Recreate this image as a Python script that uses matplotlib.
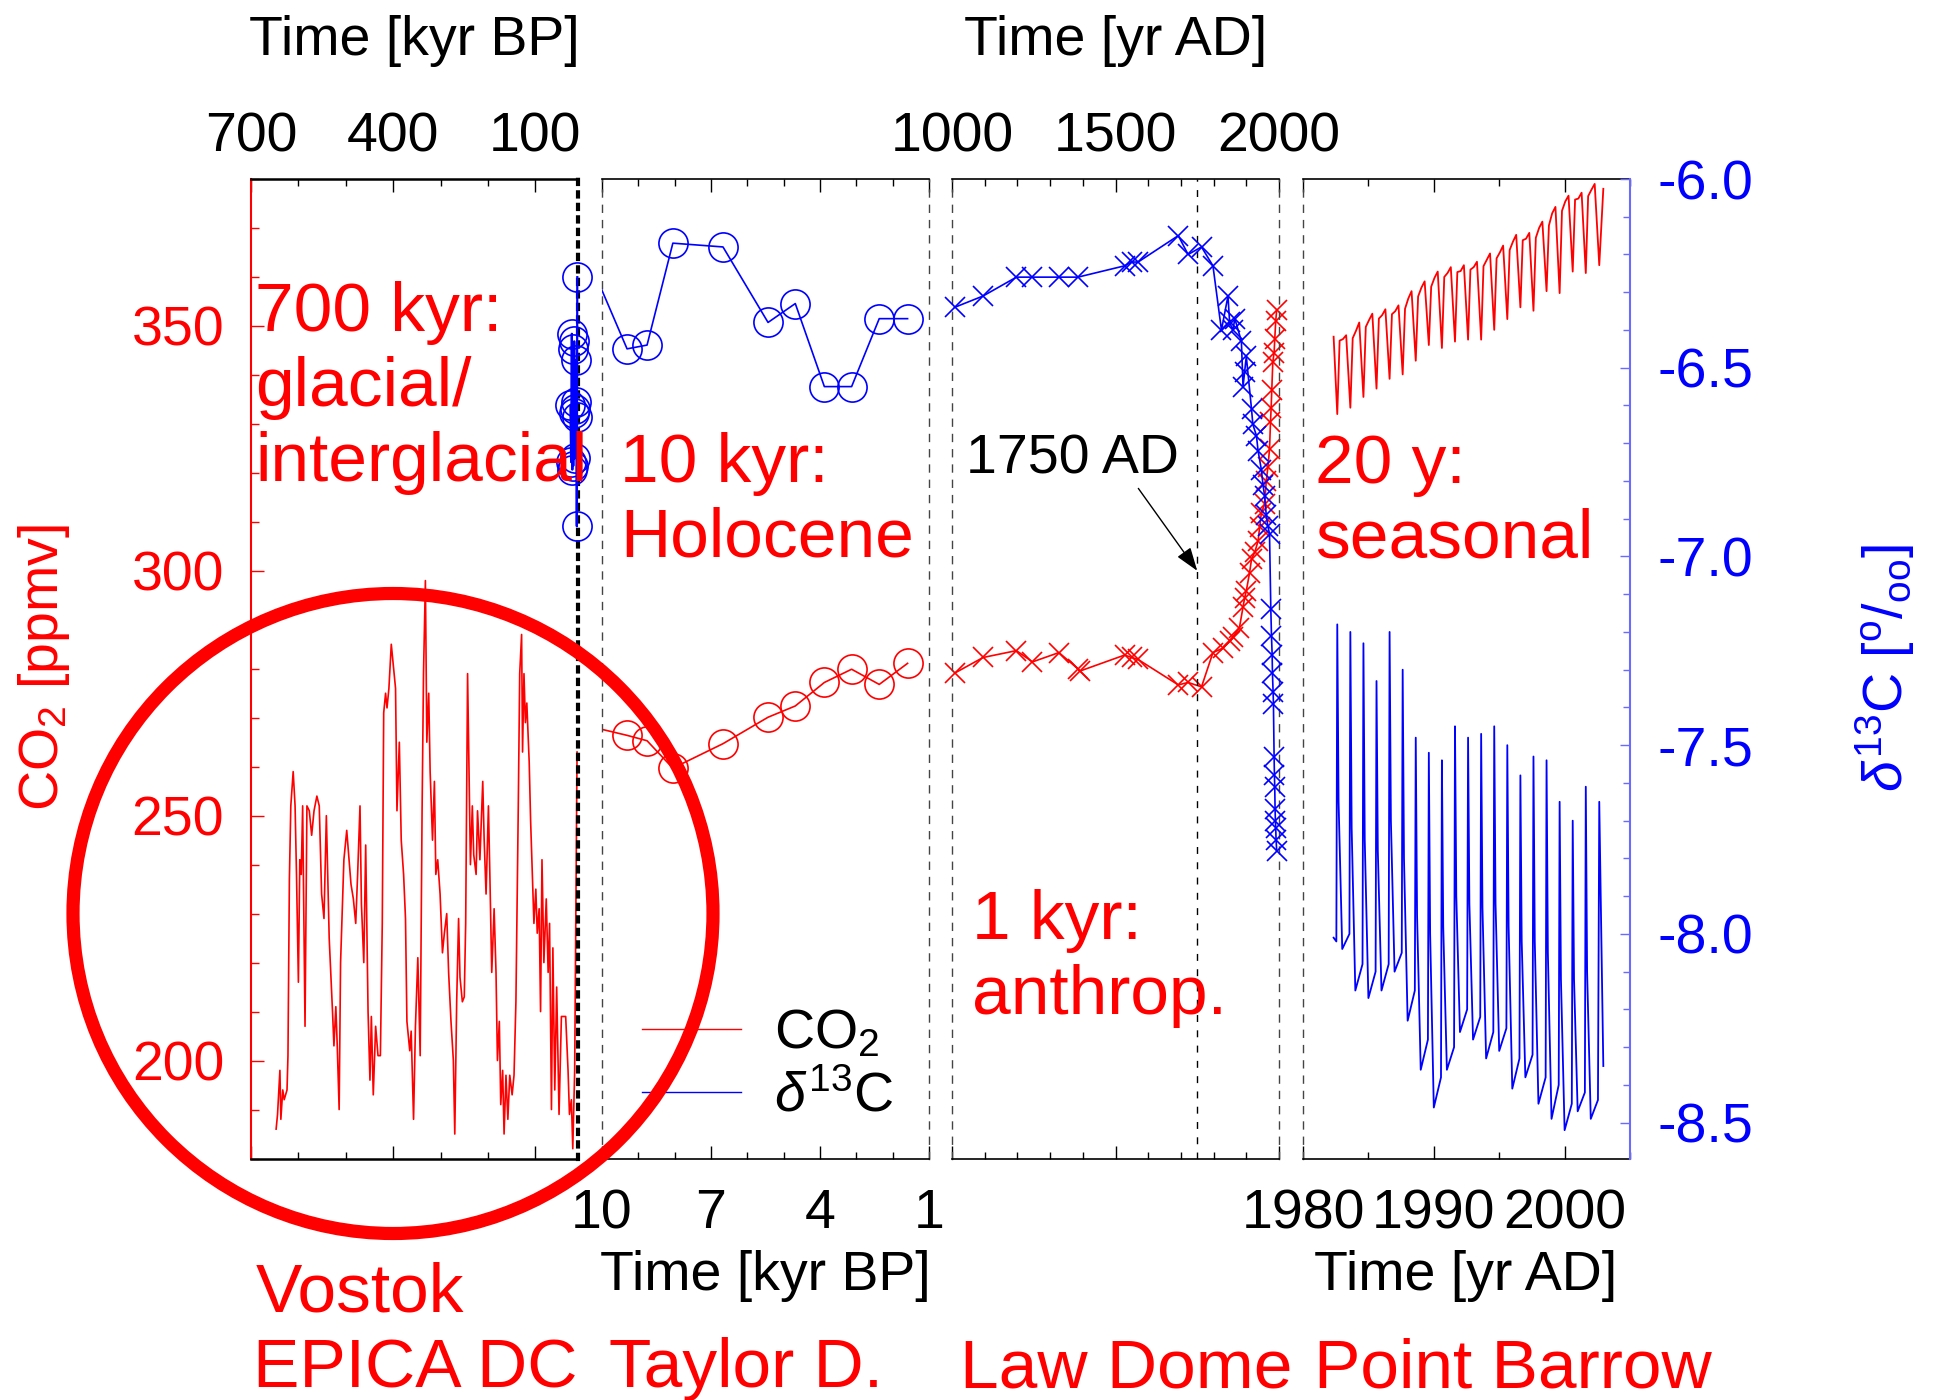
import matplotlib
matplotlib.use("Agg")
import matplotlib.pyplot as plt
from matplotlib.lines import Line2D
from matplotlib.patches import Ellipse
from matplotlib.ticker import FixedLocator, MultipleLocator, FormatStrFormatter

plt.rcParams['font.family'] = ['Liberation Sans', 'DejaVu Sans']
plt.rcParams['mathtext.fontset'] = 'custom'
plt.rcParams['mathtext.rm'] = 'Liberation Sans'
plt.rcParams['mathtext.it'] = 'Liberation Sans:italic'
plt.rcParams['mathtext.bf'] = 'Liberation Sans:bold'
plt.rcParams['axes.unicode_minus'] = False

RED = '#ff0000'
BLUE = '#0000ff'

# ---- Vostok / EPICA DC CO2 (kyr BP, ppmv)
vostok_age = [647, 644, 639, 637, 633, 630, 624, 622, 619, 616,
              611, 607, 604, 600, 597, 594, 591, 588, 586, 582,
              577, 572, 567, 561, 556, 551, 546, 541, 535, 528,
              525, 521, 518, 514, 511, 504, 498, 493, 489, 484,
              479, 475, 470, 467, 462, 458, 453, 449, 446, 442,
              437, 432, 427, 423, 420, 416, 413, 409, 404, 400,
              395, 392, 387, 383, 378, 374, 371, 365, 362, 357,
              353, 348, 343, 339, 336, 332, 329, 325, 322, 317,
              313, 310, 306, 301, 296, 292, 287, 283, 278, 273,
              270, 266, 262, 259, 254, 250, 247, 243, 239, 237,
              233, 230, 225, 222, 217, 213, 211, 208, 204, 199,
              196, 192, 187, 183, 180, 176, 173, 169, 166, 162,
              158, 154, 149, 145, 141, 136, 133, 129, 127, 124,
              121, 118, 113, 110, 106, 103, 99, 96, 92, 89,
              86, 82, 77, 73, 70, 66, 63, 59, 55, 50,
              45, 36, 31, 28, 24, 21, 17, 14, 12]
vostok_co2 = [186, 189, 198, 188, 194, 192, 194, 201, 237, 252,
              259, 252, 238, 216, 241, 238, 252, 225, 207, 252,
              251, 246, 251, 254, 252, 234, 229, 250, 225, 210,
              203, 211, 203, 190, 220, 241, 247, 241, 236, 233,
              228, 238, 252, 232, 220, 244, 210, 196, 209, 193,
              207, 201, 201, 228, 271, 275, 272, 276, 285, 281,
              276, 251, 265, 245, 238, 229, 208, 202, 206, 188,
              207, 221, 201, 251, 279, 298, 265, 275, 259, 245,
              257, 238, 241, 234, 222, 226, 230, 218, 208, 200,
              185, 212, 229, 217, 212, 213, 228, 279, 252, 240,
              252, 242, 238, 251, 241, 252, 257, 245, 234, 252,
              238, 218, 231, 218, 200, 208, 191, 198, 185, 197,
              188, 197, 193, 197, 212, 252, 279, 287, 263, 279,
              269, 273, 261, 249, 237, 228, 235, 226, 231, 210,
              241, 220, 233, 218, 228, 190, 223, 194, 215, 189,
              209, 209, 198, 189, 192, 182, 198, 238, 263]

# ---- Taylor Dome d13C, glacial termination (kyr BP, permil)
taylor_glacial_age = [26, 24.5, 23, 22, 21, 20, 19, 18, 17, 16, 15, 14, 13, 12.5, 11.5]
taylor_glacial_d13c = [-6.60, -6.75, -6.41, -6.77, -6.45, -6.76, -6.62, -6.43,
                       -6.74, -6.61, -6.48, -6.59, -6.63, -6.92, -6.26]

# ---- Taylor Dome Holocene (kyr BP)
taylor_age = [10.78, 9.31, 8.76, 8.05, 6.67, 5.43, 4.68, 3.88, 3.13, 2.37, 1.59]
taylor_co2 = [269.0, 266.4, 265.3, 259.7, 264.7, 270.1, 272.4, 277.2, 279.9, 276.8, 281.1]
taylor_d13c = [-6.12, -6.45, -6.44, -6.17, -6.18, -6.38, -6.33, -6.55, -6.55, -6.37, -6.37]

# ---- Law Dome (yr AD)
law_co2_year = [1008, 1095, 1197, 1246, 1327, 1385, 1390, 1528, 1549, 1569,
                1692, 1722, 1763, 1798, 1828, 1849, 1859, 1879, 1890, 1895,
                1900, 1910, 1916, 1926, 1936, 1941, 1946, 1956, 1961, 1966,
                1971, 1974, 1976, 1978, 1981, 1985, 1987, 1990, 1993]
law_co2 = [279.1, 282.3, 283.7, 281.4, 283.3, 280.0, 279.5, 282.8, 282.3, 281.9,
           276.7, 277.2, 276.3, 283.3, 284.2, 285.6, 286.5, 288.4, 292.6, 294.5,
           295.9, 299.6, 302.4, 303.8, 306.1, 309.0, 311.8, 313.6, 318.3, 321.1,
           324.8, 330.4, 333.3, 337.0, 342.6, 344.5, 347.3, 351.0, 353.3]
law_d13c_year = [1008, 1095, 1197, 1246, 1327, 1385, 1528, 1549, 1569, 1692,
                 1722, 1763, 1798, 1824, 1844, 1849, 1859, 1865, 1885, 1890,
                 1895, 1900, 1916, 1920, 1931, 1936, 1946, 1951, 1956, 1961,
                 1966, 1971, 1975, 1977, 1979, 1980, 1982, 1983, 1985, 1986,
                 1987, 1988, 1989, 1990, 1991, 1993]
law_d13c = [-6.34, -6.31, -6.26, -6.26, -6.26, -6.26, -6.23, -6.22, -6.22, -6.15,
            -6.20, -6.18, -6.23, -6.40, -6.31, -6.38, -6.40, -6.37, -6.43, -6.55,
            -6.51, -6.47, -6.61, -6.65, -6.68, -6.72, -6.77, -6.81, -6.84, -6.89,
            -6.92, -6.94, -7.14, -7.21, -7.26, -7.31, -7.36, -7.39, -7.53, -7.58,
            -7.61, -7.67, -7.70, -7.72, -7.75, -7.78]

# ---- Point Barrow flask record (yr AD)
barrow_co2_time = [1982.34, 1982.62, 1982.80,
                   1983.05, 1983.30, 1983.62, 1983.80,
                   1984.05, 1984.30, 1984.62, 1984.80,
                   1985.05, 1985.30, 1985.62, 1985.80,
                   1986.05, 1986.30, 1986.62, 1986.80,
                   1987.05, 1987.30, 1987.62, 1987.80,
                   1988.05, 1988.30, 1988.62, 1988.80,
                   1989.05, 1989.30, 1989.62, 1989.80,
                   1990.05, 1990.30, 1990.62, 1990.80,
                   1991.05, 1991.30, 1991.62, 1991.80,
                   1992.05, 1992.30, 1992.62, 1992.80,
                   1993.05, 1993.30, 1993.62, 1993.80,
                   1994.05, 1994.30, 1994.62, 1994.80,
                   1995.05, 1995.30, 1995.62, 1995.80,
                   1996.05, 1996.30, 1996.62, 1996.80,
                   1997.05, 1997.30, 1997.62, 1997.80,
                   1998.05, 1998.30, 1998.62, 1998.80,
                   1999.05, 1999.30, 1999.62, 1999.80,
                   2000.05, 2000.30, 2000.62, 2000.80,
                   2001.05, 2001.30, 2001.62, 2001.80,
                   2002.05, 2002.30, 2002.65, 2002.96]
barrow_co2 = [347.8, 332.0, 347.0,
              347.3, 348.1, 333.3, 347.5,
              349.0, 350.7, 335.5, 349.8,
              351.2, 352.5, 337.2, 351.5,
              352.2, 353.4, 339.2, 352.4,
              353.0, 354.2, 340.1, 353.5,
              355.6, 357.1, 342.9, 356.0,
              357.8, 359.1, 346.1, 358.0,
              359.8, 361.1, 345.5, 360.0,
              360.8, 362.0, 346.8, 361.0,
              361.2, 362.4, 347.2, 361.5,
              362.0, 363.1, 347.2, 362.2,
              363.5, 364.8, 349.2, 363.8,
              365.0, 366.4, 351.4, 365.5,
              367.2, 368.6, 353.8, 367.5,
              367.8, 369.0, 353.1, 368.0,
              370.0, 371.3, 357.1, 370.5,
              373.0, 374.3, 356.7, 373.5,
              375.4, 376.6, 361.1, 375.8,
              376.0, 377.2, 360.8, 376.5,
              377.8, 379.0, 362.4, 378.0]
barrow_d13c_time = [1982.34, 1982.55,
                    1982.62, 1982.72, 1983.00, 1983.55,
                    1983.62, 1983.72, 1984.00, 1984.55,
                    1984.62, 1984.72, 1985.00, 1985.55,
                    1985.62, 1985.72, 1986.00, 1986.55,
                    1986.62, 1986.72, 1987.00, 1987.55,
                    1987.62, 1987.72, 1988.00, 1988.55,
                    1988.62, 1988.72, 1989.00, 1989.55,
                    1989.62, 1989.72, 1990.00, 1990.55,
                    1990.62, 1990.72, 1991.00, 1991.55,
                    1991.62, 1991.72, 1992.00, 1992.55,
                    1992.62, 1992.72, 1993.00, 1993.55,
                    1993.62, 1993.72, 1994.00, 1994.55,
                    1994.62, 1994.72, 1995.00, 1995.55,
                    1995.62, 1995.72, 1996.00, 1996.55,
                    1996.62, 1996.72, 1997.00, 1997.55,
                    1997.62, 1997.72, 1998.00, 1998.55,
                    1998.62, 1998.72, 1999.00, 1999.55,
                    1999.62, 1999.72, 2000.00, 2000.55,
                    2000.62, 2000.72, 2001.00, 2001.55,
                    2001.62, 2001.72, 2002.00, 2002.55,
                    2002.65, 2002.96]
barrow_d13c = [-8.01, -8.02,
               -7.18, -7.65, -8.04, -8.00,
               -7.20, -7.72, -8.15, -8.08,
               -7.23, -7.75, -8.17, -8.10,
               -7.33, -7.78, -8.15, -8.08,
               -7.20, -7.70, -8.10, -8.05,
               -7.30, -7.80, -8.23, -8.15,
               -7.48, -7.95, -8.36, -8.28,
               -7.52, -8.00, -8.46, -8.38,
               -7.54, -7.98, -8.36, -8.30,
               -7.45, -7.90, -8.26, -8.20,
               -7.48, -7.92, -8.28, -8.22,
               -7.47, -7.93, -8.33, -8.26,
               -7.45, -7.92, -8.31, -8.25,
               -7.50, -7.98, -8.41, -8.33,
               -7.58, -8.02, -8.38, -8.32,
               -7.53, -8.02, -8.45, -8.38,
               -7.54, -8.05, -8.49, -8.40,
               -7.65, -8.12, -8.52, -8.45,
               -7.70, -8.12, -8.47, -8.42,
               -7.61, -8.10, -8.49, -8.44,
               -7.65, -8.35]

# ---- figure / panel geometry (pixels)
W, H = 1937, 1400
fig = plt.figure(figsize=(W / 100, H / 100), dpi=100)


def fx(x):
    return x / W


def fy(y):
    return 1 - y / H


TOP, BOT, PW = 179, 1158.5, 327
lefts = [251, 602, 952, 1303]
axes, twins = [], []
for l in lefts:
    ax = fig.add_axes([fx(l), fy(BOT), PW / W, (BOT - TOP) / H])
    ax.set_ylim(180, 380)
    tw = ax.twinx()
    tw.set_ylim(-8.595, -6.0)
    for s in tw.spines.values():
        s.set_visible(False)
    tw.tick_params(axis='y', which='both', right=False, labelright=False)
    ax.tick_params(axis='y', which='both', left=False, right=False, labelleft=False)
    axes.append(ax)
    twins.append(tw)

ax0, ax1, ax2, ax3 = axes
ax0.set_xlim(700, 10)
ax1.set_xlim(10, 1)
ax2.set_xlim(1000, 2000)
ax3.set_xlim(1980, 2005)

# x ticks
xticks = [(ax0, [700, 400, 100], 100, True), (ax1, [10, 7, 4, 1], 1, False),
          (ax2, [1000, 1500, 2000], 100, True), (ax3, [1980, 1990, 2000], 5, False)]
for ax, major, step, top_labels in xticks:
    ax.xaxis.set_major_locator(FixedLocator(major))
    ax.xaxis.set_minor_locator(MultipleLocator(step))
    ax.tick_params(axis='x', which='both', direction='in', top=True, bottom=True,
                   labeltop=top_labels, labelbottom=not top_labels,
                   labelsize=40, pad=10.8 if top_labels else 21.6)
    ax.tick_params(axis='x', which='major', length=9.5, width=1.0)
    ax.tick_params(axis='x', which='minor', length=5, width=1.0)

# CO2 axis on the first panel
ax0.yaxis.set_major_locator(FixedLocator([200, 250, 300, 350]))
ax0.yaxis.set_minor_locator(MultipleLocator(10))
ax0.tick_params(axis='y', which='both', left=True, labelleft=True, direction='in',
                colors=RED, labelsize=40, pad=19.4, width=1.0)
ax0.tick_params(axis='y', which='major', length=9)
ax0.tick_params(axis='y', which='minor', length=6)

# d13C axis on the last panel
tw3 = twins[3]
tw3.yaxis.set_major_locator(MultipleLocator(0.5))
tw3.yaxis.set_minor_locator(MultipleLocator(0.1))
tw3.yaxis.set_major_formatter(FormatStrFormatter('%.1f'))
tw3.tick_params(axis='y', which='both', right=True, labelright=True, direction='in',
                color='#6a6aff', labelcolor=BLUE, labelsize=40, pad=20, width=1.0)
tw3.tick_params(axis='y', which='major', length=7)
tw3.tick_params(axis='y', which='minor', length=5)

# spines
dash = (0, (5, 6))
for ax in axes:
    for side in ('top', 'bottom'):
        ax.spines[side].set_linewidth(1.2)
for side in ('top', 'bottom'):
    ax0.spines[side].set_linewidth(1.8)
ax0.spines['left'].set_color(RED)
ax0.spines['left'].set_linewidth(1.5)
ax0.spines['right'].set_linestyle((0, (1, 2)))
ax0.spines['right'].set_linewidth(3)
for ax, sides in ((ax1, ('left', 'right')), (ax2, ('left', 'right')), (ax3, ('left',))):
    for side in sides:
        ax.spines[side].set_linestyle(dash)
        ax.spines[side].set_linewidth(1.0)
        ax.spines[side].set_color('#444444')
ax3.spines['right'].set_visible(False)
tw3.spines['right'].set_visible(True)
tw3.spines['right'].set_color('#6a6aff')
tw3.spines['right'].set_linewidth(1.5)

# data
ax0.plot(vostok_age, vostok_co2, color=RED, lw=1.2)
twins[0].plot(taylor_glacial_age, taylor_glacial_d13c, color=BLUE, lw=1.6,
              marker='o', ms=21, mfc='none', mew=1.2, clip_on=False)

circ = dict(marker='o', ms=21, mfc='none', mew=1.2, lw=1.2)
ax1.plot(taylor_age, taylor_co2, color=RED, **circ)
twins[1].plot(taylor_age, taylor_d13c, color=BLUE, **circ)

cross = dict(marker='x', ms=14.5, mew=1.2, lw=1.2, clip_on=False)
ax2.plot(law_co2_year, law_co2, color=RED, **cross)
twins[2].plot(law_d13c_year, law_d13c, color=BLUE, **cross)
ax2.axvline(1750, color='black', lw=1.0, ls=dash)
ax2.annotate('1750 AD', xy=(1750, 300), xytext=(1044, 322.7), textcoords='data',
             ha='left', va='center', fontsize=40, color='black',
             arrowprops=dict(arrowstyle='-|>,head_length=0.72,head_width=0.25',
                             color='black', lw=1.0, mutation_scale=20,
                             shrinkA=0, shrinkB=0, relpos=(0.76, 0.22)))

ax3.plot(barrow_co2_time, barrow_co2, color=RED, lw=1.3)
tw3.plot(barrow_d13c_time, barrow_d13c, color=BLUE, lw=1.3)

# legend
handles = [Line2D([], [], color=RED, lw=1.0), Line2D([], [], color=BLUE, lw=1.0)]
ax1.legend(handles, ['CO$_2$', r'$\delta^{13}$C'], loc='center left',
           bbox_to_anchor=(fx(642), fy(1066)), bbox_transform=fig.transFigure,
           frameon=False, fontsize=40, handlelength=1.78, handletextpad=0.6,
           labelspacing=0.2, borderpad=0, borderaxespad=0)

# axis titles
for x, y, s in ((414.5, 55, 'Time [kyr BP]'), (1115.5, 55, 'Time [yr AD]'),
                (765.5, 1290, 'Time [kyr BP]'), (1466, 1290, 'Time [yr AD]')):
    fig.text(fx(x), fy(y), s, ha='center', va='baseline', fontsize=40)
fig.text(fx(44), fy(668), 'CO$_2$ [ppmv]', rotation=90, ha='center', va='center',
         fontsize=40, color=RED)
fig.text(fx(1885), fy(668), r'$\delta^{13}$C [$^{\rm o}$/$_{\rm oo}$]', rotation=90,
         ha='center', va='center', fontsize=40, color=BLUE)

# panel captions
for x, y, s in ((255, 281, '700 kyr:\nglacial/\ninterglacial'),
                (620, 432, '10 kyr:\nHolocene'),
                (972, 889, '1 kyr:\nanthrop.'),
                (1315, 433, '20 y:\nseasonal')):
    fig.text(fx(x), fy(y), s, ha='left', va='top', fontsize=50, color=RED,
             linespacing=1.22)

# record names
for x, y, s in ((256, 1312, 'Vostok'), (253, 1387, 'EPICA DC'), (609, 1387, 'Taylor D.'),
                (960, 1387, 'Law Dome'), (1314, 1387, 'Point Barrow')):
    fig.text(fx(x), fy(y), s, ha='left', va='baseline', fontsize=50, color=RED)

# highlight ring round the glacial cycles
fig.add_artist(Ellipse((fx(393), fy(913.5)), 640 / W, 640 / H, transform=fig.transFigure,
                       fill=False, edgecolor=RED, linewidth=9.5))

fig.savefig('out.png', dpi=100)
